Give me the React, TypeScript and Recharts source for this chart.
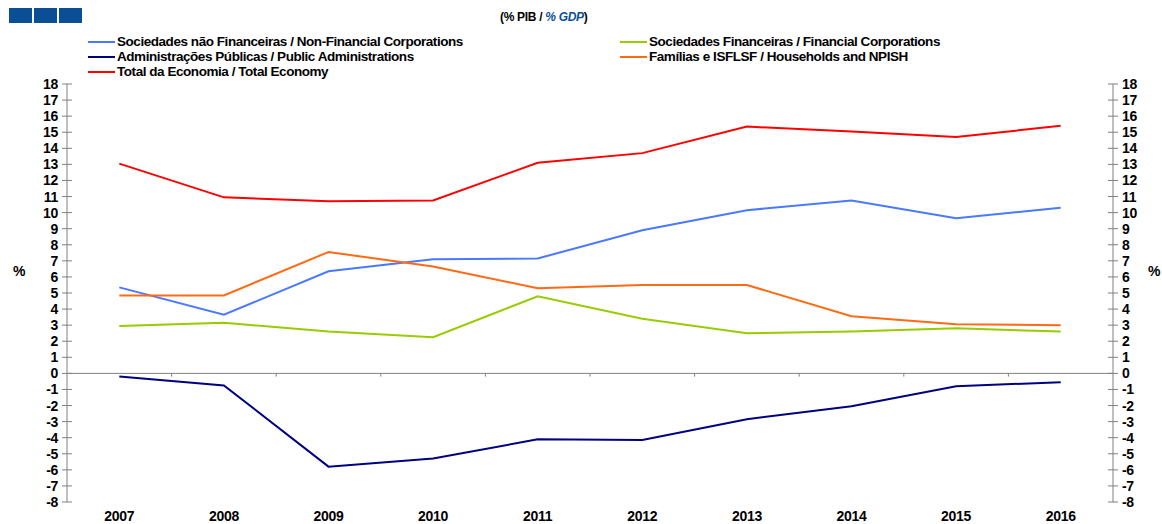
import React from 'react';
import { LineChart, Line, XAxis, YAxis, ReferenceLine } from 'recharts';

const years = [2007, 2008, 2009, 2010, 2011, 2012, 2013, 2014, 2015, 2016];
const nonFinancial = [5.35, 3.65, 6.35, 7.1, 7.15, 8.9, 10.15, 10.75, 9.65, 10.3];
const financial = [2.95, 3.15, 2.6, 2.25, 4.8, 3.4, 2.5, 2.6, 2.8, 2.6];
const publicAdmin = [-0.2, -0.75, -5.8, -5.3, -4.1, -4.15, -2.85, -2.05, -0.8, -0.55];
const households = [4.85, 4.85, 7.55, 6.65, 5.3, 5.5, 5.5, 3.55, 3.05, 3.0];
const totalEconomy = [13.05, 10.95, 10.7, 10.75, 13.1, 13.7, 15.35, 15.05, 14.7, 15.4];
const yTicks = [-8, -7, -6, -5, -4, -3, -2, -1, 0, 1, 2, 3, 4, 5, 6, 7, 8, 9, 10, 11, 12, 13, 14, 15, 16, 17, 18];

const series = [
  { key: 'nf', name: 'Sociedades não Financeiras / Non-Financial Corporations', color: '#4a78ff', values: nonFinancial },
  { key: 'fin', name: 'Sociedades Financeiras / Financial Corporations', color: '#99cc00', values: financial },
  { key: 'pa', name: 'Administrações Públicas / Public Administrations', color: '#000080', values: publicAdmin },
  { key: 'hh', name: 'Famílias e ISFLSF / Households and NPISH', color: '#ff6a13', values: households },
  { key: 'tot', name: 'Total da Economia / Total Economy', color: '#ff0000', values: totalEconomy },
];

const data = years.map((year, i) => {
  const row: Record<string, number> = { year };
  series.forEach((s) => { row[s.key] = s.values[i]; });
  return row;
});

const boundaries = years.slice(1).map((y) => y - 0.5);

const font = 'Arial, "Liberation Sans", Helvetica, sans-serif';

const LeftTick = (props: any) => {
  const { x, y, payload } = props;
  return (
    <g>
      <line x1={x + 9} x2={x + 14} y1={y} y2={y} stroke="#808080" />
      <text x={x} y={y} dy={5} textAnchor="end" fontSize={14} fontWeight="bold" fill="#000" fontFamily={font} letterSpacing={-0.3}>
        {payload.value}
      </text>
    </g>
  );
};

const RightTick = (props: any) => {
  const { x, y, payload } = props;
  return (
    <g>
      <line x1={x - 9} x2={x - 14} y1={y} y2={y} stroke="#808080" />
      <text x={x} y={y} dy={5} textAnchor="start" fontSize={14} fontWeight="bold" fill="#000" fontFamily={font} letterSpacing={-0.3}>
        {payload.value}
      </text>
    </g>
  );
};

const legendPos = [
  { left: 88, top: 34 },
  { left: 620, top: 34 },
  { left: 88, top: 49 },
  { left: 620, top: 49 },
  { left: 88, top: 64 },
];

const App: React.FC = () => {
  return (
    <div style={{ position: 'absolute', left: 0, top: 0, width: 1162, height: 524, background: '#fff', fontFamily: font, overflow: 'hidden' }}>
      <div style={{ position: 'absolute', left: 9, top: 8, display: 'flex', gap: 2 }}>
        <div style={{ width: 23, height: 15, background: '#0a4f96' }} />
        <div style={{ width: 23, height: 15, background: '#0a4f96' }} />
        <div style={{ width: 23, height: 15, background: '#0a4f96' }} />
      </div>
      <div style={{ position: 'absolute', left: 500, top: 10, fontSize: 12, fontWeight: 'bold', color: '#000', whiteSpace: 'nowrap', letterSpacing: -0.3 }}>
        (% PIB / <span style={{ color: '#0a4f96', fontStyle: 'italic' }}>% GDP</span>)
      </div>
      {series.map((s, i) => (
        <div key={s.key} style={{ position: 'absolute', left: legendPos[i].left, top: legendPos[i].top, display: 'flex', alignItems: 'center', whiteSpace: 'nowrap', fontSize: 13.5, fontWeight: 'bold', letterSpacing: -0.45, color: '#000', lineHeight: '15px' }}>
          <div style={{ width: 27, height: 2, background: s.color, marginRight: 2 }} />
          <span>{s.name}</span>
        </div>
      ))}
      <div style={{ position: 'absolute', left: 13, top: 263, fontSize: 14, fontWeight: 'bold' }}>%</div>
      <div style={{ position: 'absolute', left: 1148, top: 263, fontSize: 14, fontWeight: 'bold' }}>%</div>
      <LineChart width={1162} height={524} data={data} margin={{ top: 84, right: 0, bottom: 0, left: 0 }}>
        <XAxis
          dataKey="year"
          type="number"
          domain={[2006.5, 2016.5]}
          ticks={years}
          axisLine={false}
          tickLine={false}
          height={22}
          tickMargin={3}
          tick={{ fontSize: 14, fontWeight: 'bold', fill: '#000', fontFamily: font, letterSpacing: -0.3 }}
        />
        <YAxis
          yAxisId="left"
          orientation="left"
          width={67}
          domain={[-8, 18]}
          ticks={yTicks}
          interval={0}
          axisLine={{ stroke: '#808080' }}
          tickLine={{ stroke: '#808080' }}
          tickSize={5}
          tickMargin={4}
          tick={<LeftTick />}
        />
        <YAxis
          yAxisId="right"
          orientation="right"
          width={49}
          domain={[-8, 18]}
          ticks={yTicks}
          interval={0}
          axisLine={{ stroke: '#808080' }}
          tickLine={{ stroke: '#808080' }}
          tickSize={5}
          tickMargin={4}
          tick={<RightTick />}
        />
        <ReferenceLine yAxisId="left" y={0} stroke="#808080" />
        {boundaries.map((b) => (
          <ReferenceLine
            key={b}
            yAxisId="left"
            segment={[{ x: b, y: 0 }, { x: b, y: -0.2 }]}
            stroke="#808080"
          />
        ))}
        {series.map((s) => (
          <Line
            key={s.key}
            yAxisId="left"
            dataKey={s.key}
            type="linear"
            stroke={s.color}
            strokeWidth={2}
            dot={false}
            activeDot={false}
            isAnimationActive={false}
          />
        ))}
        {/* invisible copy so the right axis has data and draws its ticks */}
        <Line
          yAxisId="right"
          dataKey="tot"
          stroke="none"
          dot={false}
          activeDot={false}
          legendType="none"
          isAnimationActive={false}
        />
      </LineChart>
    </div>
  );
};

export default App;
